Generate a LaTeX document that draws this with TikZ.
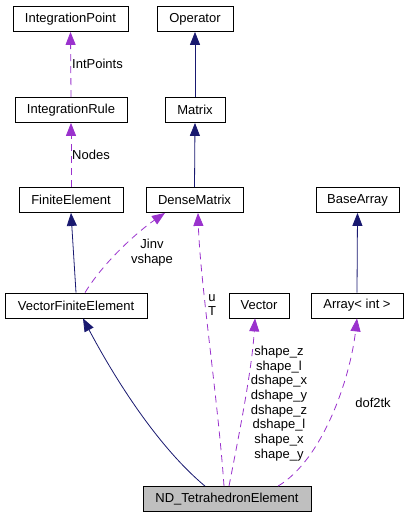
\documentclass[tikz,border=0pt]{standalone}
\usepackage{fontspec}
\setmainfont{Liberation Sans}
\usetikzlibrary{arrows.meta,positioning}
\definecolor{nv}{RGB}{25,25,112}
\definecolor{pu}{RGB}{154,50,205}
\definecolor{gy}{RGB}{191,191,191}

\begin{document}
\begin{tikzpicture}[x=1pt,y=-1pt,
  cls/.style={draw,line width=0.8pt,minimum height=25pt,inner sep=0pt,font=\fontsize{13}{14.7}\selectfont},
  lbl/.style={inner sep=0pt,align=center,font=\fontsize{13}{14.7}\selectfont},
  inh/.style={nv,line width=0.8pt,-{Triangle[length=13pt,width=10pt]}},
  use/.style={pu,line width=0.8pt,dash pattern=on 7pt off 5pt,-{Triangle[length=13pt,width=10pt]}}]
  \useasboundingbox (0,0) rectangle (408,517);

  % top rows
  \node[cls,minimum width=115pt] (ip) at (70.5,19) {IntegrationPoint};
  \node[cls,minimum width=76pt] (op) at (195,19) {Operator};
  \node[cls,minimum width=112pt] (ir) at (71,110) {IntegrationRule};
  \node[cls,minimum width=60pt] (mx) at (195,110) {Matrix};

  % middle row
  \node[cls,minimum width=104pt] (fe) at (71,200) {FiniteElement};
  \node[cls,minimum width=97pt] (dm) at (194.5,200) {DenseMatrix};
  \node[cls,minimum width=83pt] (ba) at (357.5,200) {BaseArray};

  % lower row
  \node[cls,minimum width=142pt] (vfe) at (76,305.5) {VectorFiniteElement};
  \node[cls,minimum width=60pt] (vec) at (259,305.5) {Vector};
  \node[cls,minimum width=92pt] (arr) at (357,305.5) {Array< int >};

  % the class itself
  \node[cls,fill=gy,minimum width=168pt] (nd) at (227,499) {ND\_TetrahedronElement};

  % inheritance
  \draw[inh] (mx.north) -- (op.south);
  \draw[inh] (dm.north) -- (mx.south);
  \draw[inh] (arr.north) -- (ba.south);
  \draw[inh] (vfe.north) -- (fe.south);
  \draw[inh] ([xshift=-22pt]nd.north) .. controls (150,440) and (105,360) .. ([xshift=7pt]vfe.south);

  % usage
  \draw[use] (ir.north) -- (ip.south);
  \node[lbl,anchor=west] (lip) at (72,64) {IntPoints};
  \draw[use] (fe.north) -- (ir.south);
  \node[lbl,anchor=west] (lir) at (72,155) {Nodes};

  \draw[use] ([xshift=9pt]vfe.north) .. controls (105,260) and (140,230) .. ([xshift=-29.5pt]dm.south);
  \node[lbl] (ldm) at (152,252.5) {Jinv\\vshape};

  \draw[use] ([xshift=-3pt]nd.north) .. controls (218,400) and (200,280) .. ([xshift=3.5pt]dm.south);
  \node[lbl] (lu) at (212,305) {u\\T};

  \draw[use] ([xshift=2pt]nd.north) .. controls (238,440) and (252,370) .. ([xshift=-4pt]vec.south);
  \node[lbl] (lvec) at (279,403.5) {shape\_z\\shape\_l\\dshape\_x\\dshape\_y\\dshape\_z\\dshape\_l\\shape\_x\\shape\_y};

  \draw[use] ([xshift=51pt]nd.north) .. controls (322,460) and (350,380) .. (arr.south);
  \node[lbl] (larr) at (373,403) {dof2tk};
\end{tikzpicture}
\end{document}
